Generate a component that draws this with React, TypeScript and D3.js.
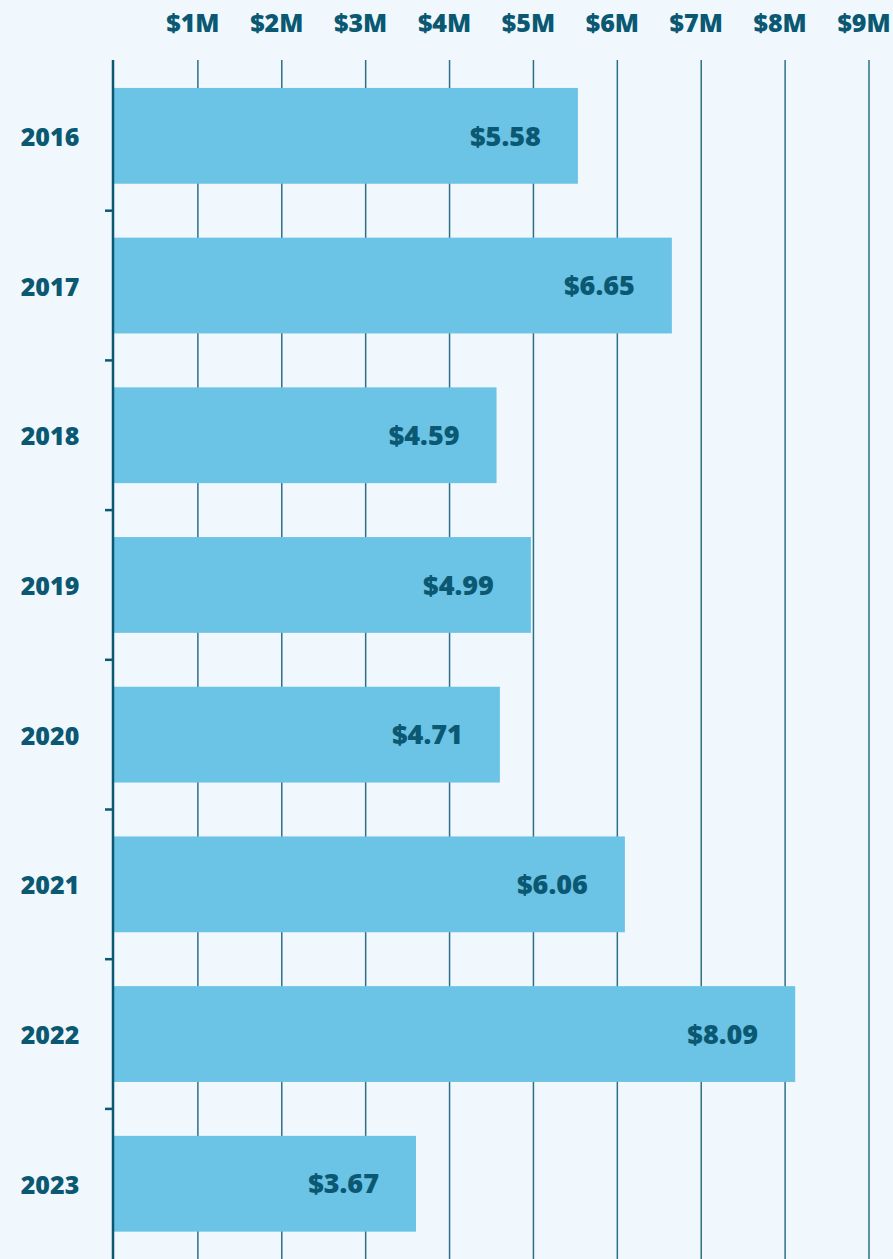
import React from "react";
import * as d3 from "d3";

const years = ["2016", "2017", "2018", "2019", "2020", "2021", "2022", "2023"];
const barValues = [5.53, 6.65, 4.56, 4.97, 4.6, 6.09, 8.12, 3.6];
const valueLabels = ["$5.58", "$6.65", "$4.59", "$4.99", "$4.71", "$6.06", "$8.09", "$3.67"];
const tickValues = [1, 2, 3, 4, 5, 6, 7, 8, 9];

const W = 893;
const H = 1259;
const BG = "#f0f8fe";
const BAR = "#6bc3e6";
const TEXT = "#0b5872";
const GRID = "#2f6f86";
const FONT = "'Open Sans', 'DejaVu Sans', sans-serif";

export default function App() {
  const x = d3.scaleLinear().domain([0, 9]).range([114, 869]);
  const y = d3
    .scaleBand<string>()
    .domain(years)
    .range([61, 1258.6])
    .paddingInner(0.36)
    .paddingOuter(0.18);
  const step = y.step();
  const bw = y.bandwidth();
  const gapHalf = (step - bw) / 2;

  return (
    <svg
      width={W}
      height={H}
      style={{ position: "absolute", left: 0, top: 0, display: "block" }}
    >
      <rect x={0} y={0} width={W} height={H} fill={BG} />
      {tickValues.map((t) => (
        <g key={t}>
          <line x1={x(t)} x2={x(t)} y1={60} y2={H} stroke={GRID} strokeWidth={1.5} />
          <text
            x={x(t) - 5}
            y={31.5}
            textAnchor="middle"
            fontFamily={FONT}
            fontWeight={800}
            fontSize={25}
            fill={TEXT}
          >
            {`$${t}M`}
          </text>
        </g>
      ))}
      {years.map((yr, i) => {
        const y0 = y(yr)!;
        return (
          <g key={yr}>
            <rect x={x(0)} y={y0} width={x(barValues[i]) - x(0)} height={bw} fill={BAR} />
            <text
              x={x(barValues[i]) - 37}
              y={y0 + bw / 2}
              dy="0.36em"
              textAnchor="end"
              fontFamily={FONT}
              fontWeight={800}
              fontSize={27}
              fill={TEXT}
            >
              {valueLabels[i]}
            </text>
            <text
              x={50}
              y={y0 + bw / 2 + 1}
              dy="0.36em"
              textAnchor="middle"
              fontFamily={FONT}
              fontWeight={800}
              fontSize={25}
              fill={TEXT}
            >
              {yr}
            </text>
            {i > 0 && (
              <line
                x1={105}
                x2={113}
                y1={y0 - gapHalf}
                y2={y0 - gapHalf}
                stroke={TEXT}
                strokeWidth={2.5}
              />
            )}
          </g>
        );
      })}
      <line x1={113} x2={113} y1={60} y2={H} stroke={TEXT} strokeWidth={2.5} />
    </svg>
  );
}
